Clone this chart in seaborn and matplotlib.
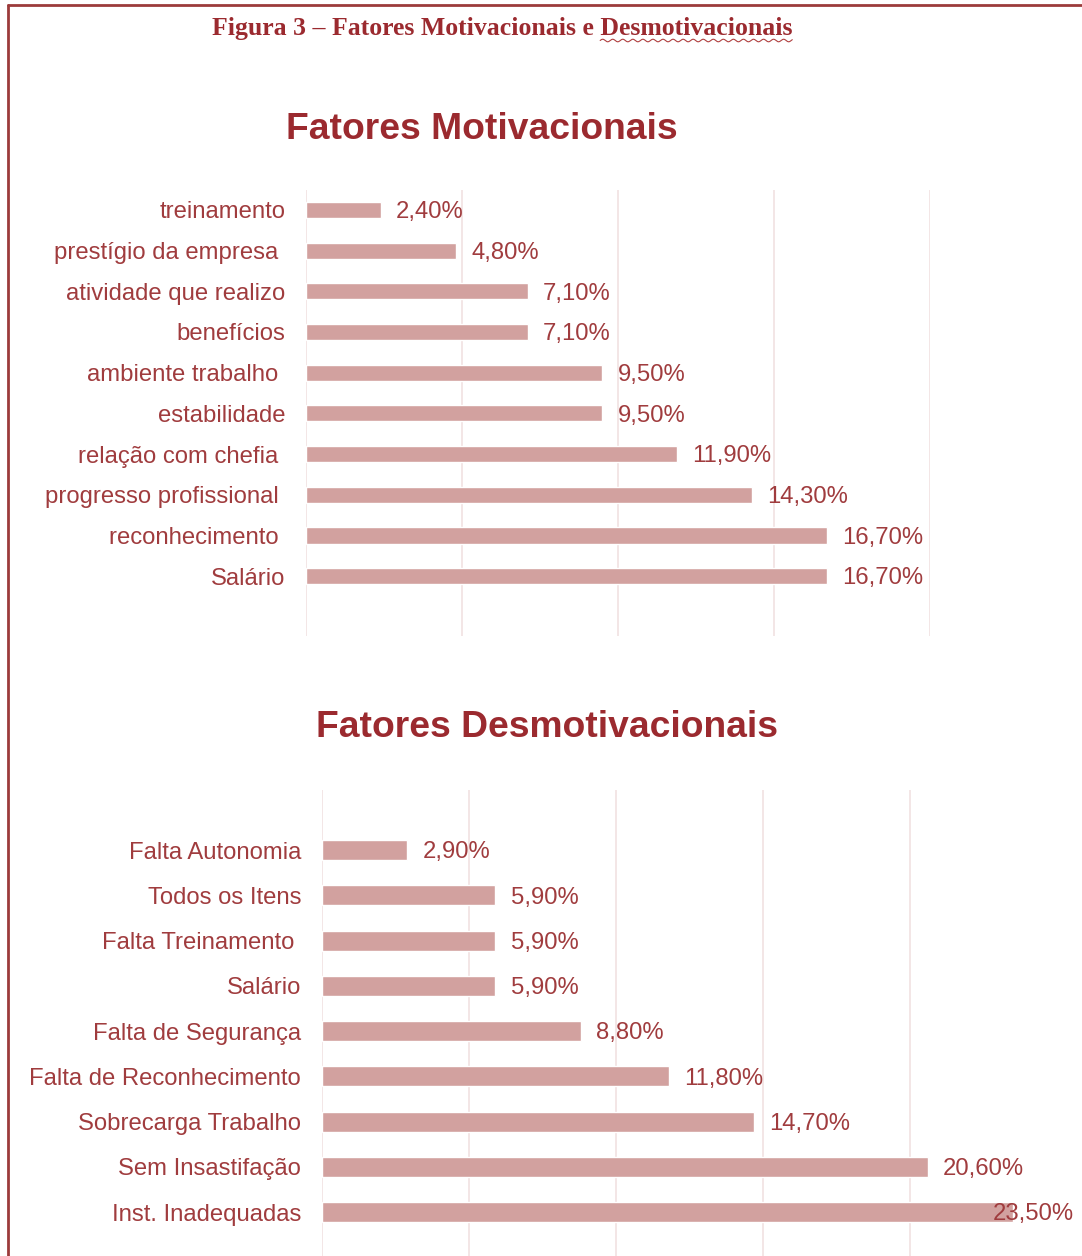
import numpy as np
import seaborn as sns
import pandas as pd
import matplotlib.pyplot as plt
from matplotlib.lines import Line2D

sns.set_theme(style="white")
plt.rcParams['font.family'] = ['Liberation Sans', 'DejaVu Sans']

# dados
motiv_labels = ["treinamento", "prestígio da empresa ", "atividade que realizo", "benefícios",
                "ambiente trabalho ", "estabilidade", "relação com chefia ",
                "progresso profissional ", "reconhecimento ", "Salário"]
motiv_values = [2.4, 4.8, 7.1, 7.1, 9.5, 9.5, 11.9, 14.3, 16.7, 16.7]

desmot_labels = ["Falta Autonomia", "Todos os Itens", "Falta Treinamento ", "Salário",
                 "Falta de Segurança", "Falta de Reconhecimento", "Sobrecarga Trabalho",
                 "Sem Insastifação", "Inst. Inadequadas"]
desmot_values = [2.9, 5.9, 5.9, 5.9, 8.8, 11.8, 14.7, 20.6, 23.5]

BAR = "#d2a19f"
TXT = "#a03c3e"
TIT = "#9b2a2f"
GRID = "#f1e1e1"
FS = 17.2

fig = plt.figure(figsize=(10.82, 12.56), dpi=100)

df1 = pd.DataFrame({"fator": motiv_labels, "pct": motiv_values})
df2 = pd.DataFrame({"fator": desmot_labels, "pct": desmot_values})

ax1 = fig.add_axes([0.2828, 0.4936, 0.5767, 0.3551])
ax2 = fig.add_axes([0.2976, 0.0, 0.6793, 0.371])


def desenha(ax, df, xmax, ylim, width):
    sns.barplot(ax=ax, data=df, y="fator", x="pct", orient="h", color=BAR,
                width=width, saturation=1)
    ax.set_xlim(0, xmax)
    ax.set_ylim(*ylim)
    ax.set_xticks([0, 5, 10, 15, 20])
    ax.xaxis.grid(True, color=GRID, linewidth=1.2)
    ax.set_axisbelow(True)
    for s in ax.spines.values():
        s.set_visible(False)
    ax.set_xlabel("")
    ax.set_ylabel("")
    ax.tick_params(axis="x", labelbottom=False, length=0)
    ax.tick_params(axis="y", length=0, pad=15, labelsize=FS, labelcolor=TXT)
    for i, v in enumerate(df["pct"]):
        txt = f"{v:.2f}%".replace(".", ",")
        if v > xmax - 3:
            # rótulo encostado na borda, como no original
            ax.annotate(txt, (xmax, i), xytext=(12, -6), textcoords="offset points",
                        va="baseline", ha="right", fontsize=FS, color=TXT)
        else:
            ax.annotate(txt, (v, i), xytext=(11, -6), textcoords="offset points",
                        va="baseline", ha="left", fontsize=FS, color=TXT)


desenha(ax1, df1, 20, (10.475, -0.49), 0.4)
desenha(ax2, df2, 25, (8.97, -1.326), 0.44)

fig.text(0.4455, 0.8965, "Fatores Motivacionais", ha="center", va="center",
         fontsize=26.8, fontweight="bold", color=TIT)
fig.text(0.5055, 0.4204, "Fatores Desmotivacionais", ha="center", va="center",
         fontsize=26.8, fontweight="bold", color=TIT)
cab = fig.text(0.464, 0.9777, "Figura 3 – Fatores Motivacionais e Desmotivacionais",
               ha="center", va="center", fontsize=18.5, fontweight="bold", color=TIT,
               family=["Liberation Serif", "DejaVu Serif"])

# sublinhado ondulado (corretor ortográfico) sob "Desmotivacionais"
fig.canvas.draw()
bb = cab.get_window_extent()
parte = fig.text(0, 0, "Desmotivacionais", fontsize=18.5, fontweight="bold",
                 family=["Liberation Serif", "DejaVu Serif"])
w = parte.get_window_extent().width
parte.remove()
x0, x1 = bb.x1 - w, bb.x1
xs = np.linspace(x0, x1, 200)
ys = bb.y0 - 1 + 1.3 * np.sin((xs - x0) / 1.6)
fig.add_artist(Line2D(xs / fig.bbox.width, ys / fig.bbox.height, color="#b04040", lw=0.8))

# moldura
borda = "#9c3b3b"
fig.add_artist(Line2D([0.0075, 0.0075], [0.0, 0.996], color=borda, lw=2))
fig.add_artist(Line2D([0.0075, 1.0], [0.996, 0.996], color=borda, lw=2))

fig.savefig("out.png", dpi=100)
